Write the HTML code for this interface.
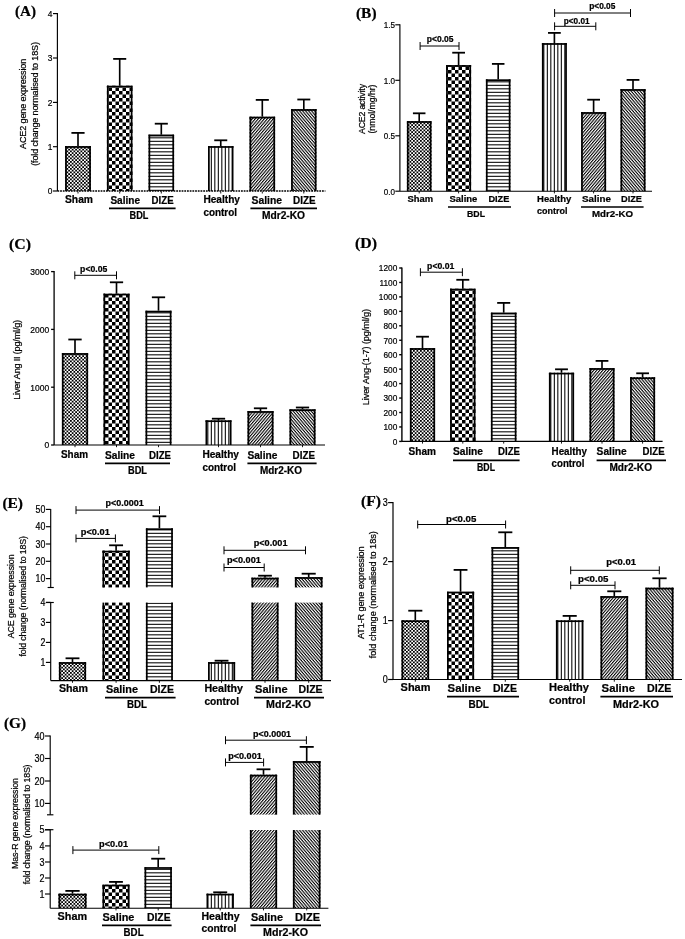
<!DOCTYPE html>
<html lang="en"><head><meta charset="utf-8"><title>Figure</title>
<style>
html,body{margin:0;padding:0;background:#fff;}
body{width:685px;height:939px;overflow:hidden;}
svg{display:block;will-change:transform;filter:blur(0.35px);}
svg line{stroke:#000;}
svg text{fill:#000;stroke:#000;stroke-width:0.22px;}
.r{font-family:"Liberation Sans",Arial,Helvetica,sans-serif;font-weight:400;}
.b{font-family:"Liberation Sans",Arial,Helvetica,sans-serif;font-weight:700;}
.s{font-family:"Liberation Serif","Times New Roman",Times,serif;font-weight:700;}
</style></head><body>
<svg width="685" height="939" viewBox="0 0 685 939">
<defs>
<pattern id="p-fine" width="3.5" height="3.5" patternUnits="userSpaceOnUse"><rect width="3.5" height="3.5" fill="#fff"/><rect x="0" y="0" width="1.75" height="1.75" fill="#000"/><rect x="1.75" y="1.75" width="1.75" height="1.75" fill="#000"/></pattern>
<pattern id="p-big" width="7" height="7" patternUnits="userSpaceOnUse"><rect width="7" height="7" fill="#fff"/><rect x="0" y="0" width="3.5" height="3.5" fill="#000"/><rect x="3.5" y="3.5" width="3.5" height="3.5" fill="#000"/></pattern>
<pattern id="p-h" width="7" height="7" patternUnits="userSpaceOnUse"><rect width="7" height="7" fill="#fff"/><rect x="0" y="0.8" width="7" height="1.05" fill="#000"/><rect x="0" y="4.3" width="7" height="1.05" fill="#000"/></pattern>
<pattern id="p-v" width="7" height="7" patternUnits="userSpaceOnUse"><rect width="7" height="7" fill="#fff"/><rect x="0.8" y="0" width="1.05" height="7" fill="#000"/><rect x="4.3" y="0" width="1.05" height="7" fill="#000"/></pattern>
<pattern id="p-d1" width="2.3" height="2.3" patternUnits="userSpaceOnUse" patternTransform="rotate(-50)"><rect width="2.3" height="2.3" fill="#fff"/><rect x="0" y="0" width="2.3" height="1.1" fill="#000"/></pattern>
<pattern id="p-d2" width="2.3" height="2.3" patternUnits="userSpaceOnUse" patternTransform="rotate(50)"><rect width="2.3" height="2.3" fill="#fff"/><rect x="0" y="0" width="2.3" height="1.1" fill="#000"/></pattern>
</defs>
<rect x="0" y="0" width="685" height="939" fill="#fff"/>
<text class="s" x="15" y="16.3" font-size="14.3" textLength="21" lengthAdjust="spacingAndGlyphs">(A)</text>
<line x1="57.4" y1="13.1" x2="57.4" y2="191" stroke-width="1.15"/>
<line x1="53" y1="13.6" x2="57.4" y2="13.6" stroke-width="1.15"/>
<text class="r" x="47.86" y="17.03" font-size="9.66" textLength="4.67" lengthAdjust="spacingAndGlyphs">4</text>
<line x1="53" y1="58" x2="57.4" y2="58" stroke-width="1.15"/>
<text class="r" x="47.86" y="61.43" font-size="9.66" textLength="4.67" lengthAdjust="spacingAndGlyphs">3</text>
<line x1="53" y1="102.4" x2="57.4" y2="102.4" stroke-width="1.15"/>
<text class="r" x="47.86" y="105.83" font-size="9.66" textLength="4.67" lengthAdjust="spacingAndGlyphs">2</text>
<line x1="53" y1="146.7" x2="57.4" y2="146.7" stroke-width="1.15"/>
<text class="r" x="47.86" y="150.13" font-size="9.66" textLength="4.67" lengthAdjust="spacingAndGlyphs">1</text>
<line x1="53" y1="191" x2="57.4" y2="191" stroke-width="1.15"/>
<text class="r" x="47.86" y="194.43" font-size="9.66" textLength="4.67" lengthAdjust="spacingAndGlyphs">0</text>
<rect x="65.1" y="146.1" width="25.8" height="44.9" fill="url(#p-fine)" stroke="none"/>
<line x1="65.97" y1="146.1" x2="65.97" y2="191" stroke-width="1.75"/>
<line x1="90.03" y1="146.1" x2="90.03" y2="191" stroke-width="1.75"/>
<line x1="65.1" y1="146.97" x2="90.9" y2="146.97" stroke-width="1.75"/>
<line x1="78" y1="132.9" x2="78" y2="146.1" stroke-width="1.65"/>
<line x1="71.42" y1="132.9" x2="84.58" y2="132.9" stroke-width="1.8"/>
<rect x="106.9" y="85.7" width="25.6" height="105.3" fill="url(#p-big)" stroke="none"/>
<line x1="107.78" y1="85.7" x2="107.78" y2="191" stroke-width="1.75"/>
<line x1="131.62" y1="85.7" x2="131.62" y2="191" stroke-width="1.75"/>
<line x1="106.9" y1="86.58" x2="132.5" y2="86.58" stroke-width="1.75"/>
<line x1="119.7" y1="58.9" x2="119.7" y2="85.7" stroke-width="1.65"/>
<line x1="113.17" y1="58.9" x2="126.23" y2="58.9" stroke-width="1.8"/>
<rect x="148.5" y="134.7" width="25.6" height="56.3" fill="url(#p-h)" stroke="none"/>
<line x1="149.38" y1="134.7" x2="149.38" y2="191" stroke-width="1.75"/>
<line x1="173.22" y1="134.7" x2="173.22" y2="191" stroke-width="1.75"/>
<line x1="148.5" y1="135.57" x2="174.1" y2="135.57" stroke-width="1.75"/>
<line x1="161.3" y1="123.7" x2="161.3" y2="134.7" stroke-width="1.65"/>
<line x1="154.77" y1="123.7" x2="167.83" y2="123.7" stroke-width="1.8"/>
<rect x="208" y="146.1" width="25.5" height="44.9" fill="url(#p-v)" stroke="none"/>
<line x1="208.88" y1="146.1" x2="208.88" y2="191" stroke-width="1.75"/>
<line x1="232.62" y1="146.1" x2="232.62" y2="191" stroke-width="1.75"/>
<line x1="208" y1="146.97" x2="233.5" y2="146.97" stroke-width="1.75"/>
<line x1="220.75" y1="140.3" x2="220.75" y2="146.1" stroke-width="1.65"/>
<line x1="214.25" y1="140.3" x2="227.25" y2="140.3" stroke-width="1.8"/>
<rect x="249.5" y="116.7" width="25.6" height="74.3" fill="url(#p-d1)" stroke="none"/>
<line x1="250.38" y1="116.7" x2="250.38" y2="191" stroke-width="1.75"/>
<line x1="274.23" y1="116.7" x2="274.23" y2="191" stroke-width="1.75"/>
<line x1="249.5" y1="117.58" x2="275.1" y2="117.58" stroke-width="1.75"/>
<line x1="262.3" y1="99.9" x2="262.3" y2="116.7" stroke-width="1.65"/>
<line x1="255.77" y1="99.9" x2="268.83" y2="99.9" stroke-width="1.8"/>
<rect x="291.1" y="109.1" width="25.4" height="81.9" fill="url(#p-d2)" stroke="none"/>
<line x1="291.98" y1="109.1" x2="291.98" y2="191" stroke-width="1.75"/>
<line x1="315.62" y1="109.1" x2="315.62" y2="191" stroke-width="1.75"/>
<line x1="291.1" y1="109.98" x2="316.5" y2="109.98" stroke-width="1.75"/>
<line x1="303.8" y1="99.5" x2="303.8" y2="109.1" stroke-width="1.65"/>
<line x1="297.32" y1="99.5" x2="310.28" y2="99.5" stroke-width="1.8"/>
<line x1="57.4" y1="191" x2="325.4" y2="191" stroke-width="1.3" stroke-dasharray="1.8 0.9"/>
<line x1="78" y1="191.5" x2="78" y2="193.5" stroke-width="0.9"/>
<line x1="119.7" y1="191.5" x2="119.7" y2="193.5" stroke-width="0.9"/>
<line x1="161.3" y1="191.5" x2="161.3" y2="193.5" stroke-width="0.9"/>
<line x1="220.75" y1="191.5" x2="220.75" y2="193.5" stroke-width="0.9"/>
<line x1="262.3" y1="191.5" x2="262.3" y2="193.5" stroke-width="0.9"/>
<line x1="303.8" y1="191.5" x2="303.8" y2="193.5" stroke-width="0.9"/>
<text class="r" transform="translate(26 103.9) rotate(-90)" x="-45.15" y="0" font-size="9.1" textLength="90.3" lengthAdjust="spacing">ACE2 gene expression</text>
<text class="r" transform="translate(38 103.9) rotate(-90)" x="-61.9" y="0" font-size="9.1" textLength="123.8" lengthAdjust="spacing">(fold change normalised to 18S)</text>
<text class="b" x="65" y="203" font-size="10.2" textLength="28" lengthAdjust="spacingAndGlyphs">Sham</text>
<text class="b" x="110.4" y="204" font-size="10.2" textLength="29.6" lengthAdjust="spacingAndGlyphs">Saline</text>
<text class="b" x="151.6" y="204" font-size="10.2" textLength="22" lengthAdjust="spacingAndGlyphs">DIZE</text>
<text class="b" x="129.6" y="219.2" font-size="10.2" textLength="18.8" lengthAdjust="spacingAndGlyphs">BDL</text>
<text class="b" x="203.4" y="203" font-size="10.2" textLength="36.6" lengthAdjust="spacingAndGlyphs">Healthy</text>
<text class="b" x="203.4" y="215.6" font-size="10.2" textLength="33.6" lengthAdjust="spacingAndGlyphs">control</text>
<text class="b" x="251.6" y="204" font-size="10.2" textLength="30.4" lengthAdjust="spacingAndGlyphs">Saline</text>
<text class="b" x="293" y="204" font-size="10.2" textLength="22.6" lengthAdjust="spacingAndGlyphs">DIZE</text>
<text class="b" x="262" y="219.2" font-size="10.2" textLength="43" lengthAdjust="spacingAndGlyphs">Mdr2-KO</text>
<line x1="109" y1="208.4" x2="175.6" y2="208.4" stroke-width="1.7"/>
<line x1="250.4" y1="208.4" x2="317" y2="208.4" stroke-width="1.7"/>
<text class="s" x="356" y="18.1" font-size="14.3" textLength="20.5" lengthAdjust="spacingAndGlyphs">(B)</text>
<line x1="399.9" y1="24.3" x2="399.9" y2="191.2" stroke-width="1.15"/>
<line x1="395.3" y1="24.8" x2="399.9" y2="24.8" stroke-width="1.15"/>
<text class="r" x="383.86" y="28.11" font-size="9.31" textLength="11.26" lengthAdjust="spacingAndGlyphs">1.5</text>
<line x1="395.3" y1="80.3" x2="399.9" y2="80.3" stroke-width="1.15"/>
<text class="r" x="383.86" y="83.61" font-size="9.31" textLength="11.26" lengthAdjust="spacingAndGlyphs">1.0</text>
<line x1="395.3" y1="135.8" x2="399.9" y2="135.8" stroke-width="1.15"/>
<text class="r" x="383.86" y="139.11" font-size="9.31" textLength="11.26" lengthAdjust="spacingAndGlyphs">0.5</text>
<line x1="395.3" y1="191.2" x2="399.9" y2="191.2" stroke-width="1.15"/>
<text class="r" x="383.86" y="194.51" font-size="9.31" textLength="11.26" lengthAdjust="spacingAndGlyphs">0.0</text>
<rect x="406.9" y="121.1" width="24.6" height="70.1" fill="url(#p-fine)" stroke="none"/>
<line x1="407.77" y1="121.1" x2="407.77" y2="191.2" stroke-width="1.75"/>
<line x1="430.62" y1="121.1" x2="430.62" y2="191.2" stroke-width="1.75"/>
<line x1="406.9" y1="121.98" x2="431.5" y2="121.98" stroke-width="1.75"/>
<line x1="419.2" y1="113.3" x2="419.2" y2="121.1" stroke-width="1.65"/>
<line x1="412.93" y1="113.3" x2="425.47" y2="113.3" stroke-width="1.8"/>
<rect x="446.1" y="65.1" width="25" height="126.1" fill="url(#p-big)" stroke="none"/>
<line x1="446.98" y1="65.1" x2="446.98" y2="191.2" stroke-width="1.75"/>
<line x1="470.23" y1="65.1" x2="470.23" y2="191.2" stroke-width="1.75"/>
<line x1="446.1" y1="65.98" x2="471.1" y2="65.98" stroke-width="1.75"/>
<line x1="458.6" y1="52.7" x2="458.6" y2="65.1" stroke-width="1.65"/>
<line x1="452.23" y1="52.7" x2="464.98" y2="52.7" stroke-width="1.8"/>
<rect x="485.9" y="79.3" width="24.6" height="111.9" fill="url(#p-h)" stroke="none"/>
<line x1="486.77" y1="79.3" x2="486.77" y2="191.2" stroke-width="1.75"/>
<line x1="509.62" y1="79.3" x2="509.62" y2="191.2" stroke-width="1.75"/>
<line x1="485.9" y1="80.17" x2="510.5" y2="80.17" stroke-width="1.75"/>
<line x1="498.2" y1="63.9" x2="498.2" y2="79.3" stroke-width="1.65"/>
<line x1="491.93" y1="63.9" x2="504.47" y2="63.9" stroke-width="1.8"/>
<rect x="541.9" y="43.1" width="25" height="148.1" fill="url(#p-v)" stroke="none"/>
<line x1="542.77" y1="43.1" x2="542.77" y2="191.2" stroke-width="1.75"/>
<line x1="566.02" y1="43.1" x2="566.02" y2="191.2" stroke-width="1.75"/>
<line x1="541.9" y1="43.98" x2="566.9" y2="43.98" stroke-width="1.75"/>
<line x1="554.4" y1="32.9" x2="554.4" y2="43.1" stroke-width="1.65"/>
<line x1="548.02" y1="32.9" x2="560.77" y2="32.9" stroke-width="1.8"/>
<rect x="581.1" y="112.1" width="25" height="79.1" fill="url(#p-d1)" stroke="none"/>
<line x1="581.98" y1="112.1" x2="581.98" y2="191.2" stroke-width="1.75"/>
<line x1="605.23" y1="112.1" x2="605.23" y2="191.2" stroke-width="1.75"/>
<line x1="581.1" y1="112.98" x2="606.1" y2="112.98" stroke-width="1.75"/>
<line x1="593.6" y1="99.7" x2="593.6" y2="112.1" stroke-width="1.65"/>
<line x1="587.23" y1="99.7" x2="599.98" y2="99.7" stroke-width="1.8"/>
<rect x="620.5" y="89.1" width="25" height="102.1" fill="url(#p-d2)" stroke="none"/>
<line x1="621.38" y1="89.1" x2="621.38" y2="191.2" stroke-width="1.75"/>
<line x1="644.62" y1="89.1" x2="644.62" y2="191.2" stroke-width="1.75"/>
<line x1="620.5" y1="89.98" x2="645.5" y2="89.98" stroke-width="1.75"/>
<line x1="633" y1="79.9" x2="633" y2="89.1" stroke-width="1.65"/>
<line x1="626.62" y1="79.9" x2="639.38" y2="79.9" stroke-width="1.8"/>
<line x1="399.9" y1="191.2" x2="652" y2="191.2" stroke-width="1.15"/>
<line x1="419.2" y1="191.2" x2="419.2" y2="193.4" stroke-width="0.9"/>
<line x1="458.6" y1="191.2" x2="458.6" y2="193.4" stroke-width="0.9"/>
<line x1="498.2" y1="191.2" x2="498.2" y2="193.4" stroke-width="0.9"/>
<line x1="554.4" y1="191.2" x2="554.4" y2="193.4" stroke-width="0.9"/>
<line x1="593.6" y1="191.2" x2="593.6" y2="193.4" stroke-width="0.9"/>
<line x1="633" y1="191.2" x2="633" y2="193.4" stroke-width="0.9"/>
<text class="r" transform="translate(365 109) rotate(-90)" x="-25" y="0" font-size="8.7" textLength="50" lengthAdjust="spacing">ACE2 activity</text>
<text class="r" transform="translate(375.2 109) rotate(-90)" x="-24.5" y="0" font-size="8.7" textLength="49" lengthAdjust="spacing">(nmol/mg/hr)</text>
<line x1="420.1" y1="46" x2="459" y2="46" stroke-width="1"/>
<line x1="420.1" y1="42" x2="420.1" y2="50" stroke-width="1"/>
<line x1="459" y1="42" x2="459" y2="50" stroke-width="1"/>
<text class="b" x="426.8" y="41.8" font-size="8.4" textLength="26.7" lengthAdjust="spacingAndGlyphs">p&lt;0.05</text>
<line x1="554.6" y1="13" x2="630.5" y2="13" stroke-width="1"/>
<line x1="554.6" y1="9" x2="554.6" y2="17" stroke-width="1"/>
<line x1="630.5" y1="9" x2="630.5" y2="17" stroke-width="1"/>
<text class="b" x="589.2" y="9.2" font-size="8.4" textLength="26.2" lengthAdjust="spacingAndGlyphs">p&lt;0.05</text>
<line x1="554.6" y1="26.3" x2="595.8" y2="26.3" stroke-width="1"/>
<line x1="554.6" y1="22.3" x2="554.6" y2="30.3" stroke-width="1"/>
<line x1="595.8" y1="22.3" x2="595.8" y2="30.3" stroke-width="1"/>
<text class="b" x="563.8" y="23.6" font-size="8.4" textLength="25.8" lengthAdjust="spacingAndGlyphs">p&lt;0.01</text>
<text class="b" x="407.4" y="202" font-size="9.7" textLength="25.6" lengthAdjust="spacingAndGlyphs">Sham</text>
<text class="b" x="449.4" y="202.4" font-size="9.7" textLength="28" lengthAdjust="spacingAndGlyphs">Saline</text>
<text class="b" x="488.4" y="202.4" font-size="9.7" textLength="21" lengthAdjust="spacingAndGlyphs">DIZE</text>
<text class="b" x="467" y="217.4" font-size="9.7" textLength="18" lengthAdjust="spacingAndGlyphs">BDL</text>
<text class="b" x="537" y="202" font-size="9.7" textLength="34.4" lengthAdjust="spacingAndGlyphs">Healthy</text>
<text class="b" x="537" y="213.6" font-size="9.7" textLength="30.4" lengthAdjust="spacingAndGlyphs">control</text>
<text class="b" x="582" y="202.4" font-size="9.7" textLength="29" lengthAdjust="spacingAndGlyphs">Saline</text>
<text class="b" x="621" y="202.4" font-size="9.7" textLength="21" lengthAdjust="spacingAndGlyphs">DIZE</text>
<text class="b" x="592" y="217.4" font-size="9.7" textLength="41" lengthAdjust="spacingAndGlyphs">Mdr2-KO</text>
<line x1="448" y1="207" x2="511" y2="207" stroke-width="1.7"/>
<line x1="581" y1="207" x2="643.6" y2="207" stroke-width="1.7"/>
<text class="s" x="9" y="248.9" font-size="14.3" textLength="22" lengthAdjust="spacingAndGlyphs">(C)</text>
<line x1="54.1" y1="271" x2="54.1" y2="445" stroke-width="1.3"/>
<line x1="51.1" y1="271.6" x2="54.1" y2="271.6" stroke-width="1.3"/>
<text class="r" x="30.23" y="275.07" font-size="9.77" textLength="18.91" lengthAdjust="spacingAndGlyphs">3000</text>
<line x1="51.1" y1="329.4" x2="54.1" y2="329.4" stroke-width="1.3"/>
<text class="r" x="30.23" y="332.87" font-size="9.77" textLength="18.91" lengthAdjust="spacingAndGlyphs">2000</text>
<line x1="51.1" y1="387.2" x2="54.1" y2="387.2" stroke-width="1.3"/>
<text class="r" x="30.23" y="390.67" font-size="9.77" textLength="18.91" lengthAdjust="spacingAndGlyphs">1000</text>
<line x1="51.1" y1="445" x2="54.1" y2="445" stroke-width="1.3"/>
<text class="r" x="44.41" y="448.47" font-size="9.77" textLength="4.73" lengthAdjust="spacingAndGlyphs">0</text>
<rect x="61.9" y="353.1" width="26.2" height="91.9" fill="url(#p-fine)" stroke="none"/>
<line x1="62.77" y1="353.1" x2="62.77" y2="445" stroke-width="1.75"/>
<line x1="87.22" y1="353.1" x2="87.22" y2="445" stroke-width="1.75"/>
<line x1="61.9" y1="353.97" x2="88.1" y2="353.97" stroke-width="1.75"/>
<line x1="75" y1="339.5" x2="75" y2="353.1" stroke-width="1.65"/>
<line x1="68.32" y1="339.5" x2="81.68" y2="339.5" stroke-width="1.8"/>
<rect x="103.5" y="293.7" width="26" height="151.3" fill="url(#p-big)" stroke="none"/>
<line x1="104.38" y1="293.7" x2="104.38" y2="445" stroke-width="1.75"/>
<line x1="128.62" y1="293.7" x2="128.62" y2="445" stroke-width="1.75"/>
<line x1="103.5" y1="294.57" x2="129.5" y2="294.57" stroke-width="1.75"/>
<line x1="116.5" y1="282.3" x2="116.5" y2="293.7" stroke-width="1.65"/>
<line x1="109.87" y1="282.3" x2="123.13" y2="282.3" stroke-width="1.8"/>
<rect x="145.5" y="310.7" width="26" height="134.3" fill="url(#p-h)" stroke="none"/>
<line x1="146.38" y1="310.7" x2="146.38" y2="445" stroke-width="1.75"/>
<line x1="170.62" y1="310.7" x2="170.62" y2="445" stroke-width="1.75"/>
<line x1="145.5" y1="311.57" x2="171.5" y2="311.57" stroke-width="1.75"/>
<line x1="158.5" y1="297.3" x2="158.5" y2="310.7" stroke-width="1.65"/>
<line x1="151.87" y1="297.3" x2="165.13" y2="297.3" stroke-width="1.8"/>
<rect x="205.5" y="420.3" width="26" height="24.7" fill="url(#p-v)" stroke="none"/>
<line x1="206.38" y1="420.3" x2="206.38" y2="445" stroke-width="1.75"/>
<line x1="230.62" y1="420.3" x2="230.62" y2="445" stroke-width="1.75"/>
<line x1="205.5" y1="421.18" x2="231.5" y2="421.18" stroke-width="1.75"/>
<line x1="218.5" y1="418.7" x2="218.5" y2="420.3" stroke-width="1.65"/>
<line x1="211.87" y1="418.7" x2="225.13" y2="418.7" stroke-width="1.8"/>
<rect x="247.5" y="411.1" width="26" height="33.9" fill="url(#p-d1)" stroke="none"/>
<line x1="248.38" y1="411.1" x2="248.38" y2="445" stroke-width="1.75"/>
<line x1="272.62" y1="411.1" x2="272.62" y2="445" stroke-width="1.75"/>
<line x1="247.5" y1="411.97" x2="273.5" y2="411.97" stroke-width="1.75"/>
<line x1="260.5" y1="408.3" x2="260.5" y2="411.1" stroke-width="1.65"/>
<line x1="253.87" y1="408.3" x2="267.13" y2="408.3" stroke-width="1.8"/>
<rect x="289.5" y="409.3" width="26" height="35.7" fill="url(#p-d2)" stroke="none"/>
<line x1="290.38" y1="409.3" x2="290.38" y2="445" stroke-width="1.75"/>
<line x1="314.62" y1="409.3" x2="314.62" y2="445" stroke-width="1.75"/>
<line x1="289.5" y1="410.18" x2="315.5" y2="410.18" stroke-width="1.75"/>
<line x1="302.5" y1="407.5" x2="302.5" y2="409.3" stroke-width="1.65"/>
<line x1="295.87" y1="407.5" x2="309.13" y2="407.5" stroke-width="1.8"/>
<line x1="54.1" y1="445" x2="325" y2="445" stroke-width="1.15"/>
<line x1="75" y1="445" x2="75" y2="447.2" stroke-width="0.9"/>
<line x1="116.5" y1="445" x2="116.5" y2="447.2" stroke-width="0.9"/>
<line x1="158.5" y1="445" x2="158.5" y2="447.2" stroke-width="0.9"/>
<line x1="218.5" y1="445" x2="218.5" y2="447.2" stroke-width="0.9"/>
<line x1="260.5" y1="445" x2="260.5" y2="447.2" stroke-width="0.9"/>
<line x1="302.5" y1="445" x2="302.5" y2="447.2" stroke-width="0.9"/>
<text class="r" transform="translate(20.3 359.8) rotate(-90)" x="-39.95" y="0" font-size="9.1" textLength="79.9" lengthAdjust="spacing">Liver Ang II (pg/ml/g)</text>
<line x1="74.8" y1="275.3" x2="116.5" y2="275.3" stroke-width="1"/>
<line x1="74.8" y1="271.3" x2="74.8" y2="279.3" stroke-width="1"/>
<line x1="116.5" y1="271.3" x2="116.5" y2="279.3" stroke-width="1"/>
<text class="b" x="80.1" y="271.6" font-size="8.6" textLength="27.2" lengthAdjust="spacingAndGlyphs">p&lt;0.05</text>
<text class="b" x="61" y="458.4" font-size="10.2" textLength="27" lengthAdjust="spacingAndGlyphs">Sham</text>
<text class="b" x="105" y="459" font-size="10.2" textLength="30" lengthAdjust="spacingAndGlyphs">Saline</text>
<text class="b" x="149" y="459" font-size="10.2" textLength="22" lengthAdjust="spacingAndGlyphs">DIZE</text>
<text class="b" x="128" y="474" font-size="10.2" textLength="19" lengthAdjust="spacingAndGlyphs">BDL</text>
<text class="b" x="202.4" y="458.4" font-size="10.2" textLength="36.6" lengthAdjust="spacingAndGlyphs">Healthy</text>
<text class="b" x="202.4" y="470.6" font-size="10.2" textLength="33.6" lengthAdjust="spacingAndGlyphs">control</text>
<text class="b" x="247.4" y="459" font-size="10.2" textLength="30" lengthAdjust="spacingAndGlyphs">Saline</text>
<text class="b" x="292.6" y="459" font-size="10.2" textLength="22.4" lengthAdjust="spacingAndGlyphs">DIZE</text>
<text class="b" x="260" y="474" font-size="10.2" textLength="42" lengthAdjust="spacingAndGlyphs">Mdr2-KO</text>
<line x1="105" y1="463.4" x2="170" y2="463.4" stroke-width="1.7"/>
<line x1="247.4" y1="463.4" x2="316.6" y2="463.4" stroke-width="1.7"/>
<text class="s" x="355" y="248.1" font-size="14.3" textLength="22" lengthAdjust="spacingAndGlyphs">(D)</text>
<line x1="401.9" y1="267.4" x2="401.9" y2="441.4" stroke-width="1.4"/>
<line x1="399.2" y1="268" x2="401.9" y2="268" stroke-width="1.4"/>
<text class="r" x="378.87" y="271.39" font-size="9.54" textLength="18.46" lengthAdjust="spacingAndGlyphs">1200</text>
<line x1="399.2" y1="282.45" x2="401.9" y2="282.45" stroke-width="1.4"/>
<text class="r" x="379.48" y="285.84" font-size="9.54" textLength="17.85" lengthAdjust="spacingAndGlyphs">1100</text>
<line x1="399.2" y1="296.9" x2="401.9" y2="296.9" stroke-width="1.4"/>
<text class="r" x="378.87" y="300.29" font-size="9.54" textLength="18.46" lengthAdjust="spacingAndGlyphs">1000</text>
<line x1="399.2" y1="311.35" x2="401.9" y2="311.35" stroke-width="1.4"/>
<text class="r" x="383.48" y="314.74" font-size="9.54" textLength="13.85" lengthAdjust="spacingAndGlyphs">900</text>
<line x1="399.2" y1="325.8" x2="401.9" y2="325.8" stroke-width="1.4"/>
<text class="r" x="383.48" y="329.19" font-size="9.54" textLength="13.85" lengthAdjust="spacingAndGlyphs">800</text>
<line x1="399.2" y1="340.25" x2="401.9" y2="340.25" stroke-width="1.4"/>
<text class="r" x="383.48" y="343.64" font-size="9.54" textLength="13.85" lengthAdjust="spacingAndGlyphs">700</text>
<line x1="399.2" y1="354.7" x2="401.9" y2="354.7" stroke-width="1.4"/>
<text class="r" x="383.48" y="358.09" font-size="9.54" textLength="13.85" lengthAdjust="spacingAndGlyphs">600</text>
<line x1="399.2" y1="369.15" x2="401.9" y2="369.15" stroke-width="1.4"/>
<text class="r" x="383.48" y="372.54" font-size="9.54" textLength="13.85" lengthAdjust="spacingAndGlyphs">500</text>
<line x1="399.2" y1="383.6" x2="401.9" y2="383.6" stroke-width="1.4"/>
<text class="r" x="383.48" y="386.99" font-size="9.54" textLength="13.85" lengthAdjust="spacingAndGlyphs">400</text>
<line x1="399.2" y1="398.05" x2="401.9" y2="398.05" stroke-width="1.4"/>
<text class="r" x="383.48" y="401.44" font-size="9.54" textLength="13.85" lengthAdjust="spacingAndGlyphs">300</text>
<line x1="399.2" y1="412.5" x2="401.9" y2="412.5" stroke-width="1.4"/>
<text class="r" x="383.48" y="415.89" font-size="9.54" textLength="13.85" lengthAdjust="spacingAndGlyphs">200</text>
<line x1="399.2" y1="426.95" x2="401.9" y2="426.95" stroke-width="1.4"/>
<text class="r" x="383.48" y="430.34" font-size="9.54" textLength="13.85" lengthAdjust="spacingAndGlyphs">100</text>
<line x1="399.2" y1="441.4" x2="401.9" y2="441.4" stroke-width="1.4"/>
<text class="r" x="392.72" y="444.79" font-size="9.54" textLength="4.62" lengthAdjust="spacingAndGlyphs">0</text>
<rect x="409.9" y="348.1" width="25.2" height="93.3" fill="url(#p-fine)" stroke="none"/>
<line x1="410.77" y1="348.1" x2="410.77" y2="441.4" stroke-width="1.75"/>
<line x1="434.23" y1="348.1" x2="434.23" y2="441.4" stroke-width="1.75"/>
<line x1="409.9" y1="348.97" x2="435.1" y2="348.97" stroke-width="1.75"/>
<line x1="422.5" y1="336.7" x2="422.5" y2="348.1" stroke-width="1.65"/>
<line x1="416.07" y1="336.7" x2="428.93" y2="336.7" stroke-width="1.8"/>
<rect x="450.1" y="288.7" width="25.4" height="152.7" fill="url(#p-big)" stroke="none"/>
<line x1="450.98" y1="288.7" x2="450.98" y2="441.4" stroke-width="1.75"/>
<line x1="474.62" y1="288.7" x2="474.62" y2="441.4" stroke-width="1.75"/>
<line x1="450.1" y1="289.57" x2="475.5" y2="289.57" stroke-width="1.75"/>
<line x1="462.8" y1="279.8" x2="462.8" y2="288.7" stroke-width="1.65"/>
<line x1="456.32" y1="279.8" x2="469.28" y2="279.8" stroke-width="1.8"/>
<rect x="490.9" y="312.7" width="25.6" height="128.7" fill="url(#p-h)" stroke="none"/>
<line x1="491.77" y1="312.7" x2="491.77" y2="441.4" stroke-width="1.75"/>
<line x1="515.62" y1="312.7" x2="515.62" y2="441.4" stroke-width="1.75"/>
<line x1="490.9" y1="313.57" x2="516.5" y2="313.57" stroke-width="1.75"/>
<line x1="503.7" y1="302.9" x2="503.7" y2="312.7" stroke-width="1.65"/>
<line x1="497.17" y1="302.9" x2="510.23" y2="302.9" stroke-width="1.8"/>
<rect x="548.9" y="372.7" width="25.2" height="68.7" fill="url(#p-v)" stroke="none"/>
<line x1="549.77" y1="372.7" x2="549.77" y2="441.4" stroke-width="1.75"/>
<line x1="573.23" y1="372.7" x2="573.23" y2="441.4" stroke-width="1.75"/>
<line x1="548.9" y1="373.57" x2="574.1" y2="373.57" stroke-width="1.75"/>
<line x1="561.5" y1="369.3" x2="561.5" y2="372.7" stroke-width="1.65"/>
<line x1="555.07" y1="369.3" x2="567.93" y2="369.3" stroke-width="1.8"/>
<rect x="589.5" y="368.1" width="25" height="73.3" fill="url(#p-d1)" stroke="none"/>
<line x1="590.38" y1="368.1" x2="590.38" y2="441.4" stroke-width="1.75"/>
<line x1="613.62" y1="368.1" x2="613.62" y2="441.4" stroke-width="1.75"/>
<line x1="589.5" y1="368.97" x2="614.5" y2="368.97" stroke-width="1.75"/>
<line x1="602" y1="360.9" x2="602" y2="368.1" stroke-width="1.65"/>
<line x1="595.62" y1="360.9" x2="608.38" y2="360.9" stroke-width="1.8"/>
<rect x="630.1" y="377.3" width="25" height="64.1" fill="url(#p-d2)" stroke="none"/>
<line x1="630.98" y1="377.3" x2="630.98" y2="441.4" stroke-width="1.75"/>
<line x1="654.23" y1="377.3" x2="654.23" y2="441.4" stroke-width="1.75"/>
<line x1="630.1" y1="378.18" x2="655.1" y2="378.18" stroke-width="1.75"/>
<line x1="642.6" y1="373.3" x2="642.6" y2="377.3" stroke-width="1.65"/>
<line x1="636.23" y1="373.3" x2="648.98" y2="373.3" stroke-width="1.8"/>
<line x1="401.9" y1="441.4" x2="662.6" y2="441.4" stroke-width="1.15"/>
<line x1="422.5" y1="441.4" x2="422.5" y2="443.6" stroke-width="0.9"/>
<line x1="462.8" y1="441.4" x2="462.8" y2="443.6" stroke-width="0.9"/>
<line x1="503.7" y1="441.4" x2="503.7" y2="443.6" stroke-width="0.9"/>
<line x1="561.5" y1="441.4" x2="561.5" y2="443.6" stroke-width="0.9"/>
<line x1="602" y1="441.4" x2="602" y2="443.6" stroke-width="0.9"/>
<line x1="642.6" y1="441.4" x2="642.6" y2="443.6" stroke-width="0.9"/>
<text class="r" transform="translate(368.5 357.1) rotate(-90)" x="-48.1" y="0" font-size="9.1" textLength="96.2" lengthAdjust="spacing">Liver Ang-(1-7) (pg/ml/g)</text>
<line x1="420.4" y1="272.2" x2="462.4" y2="272.2" stroke-width="1"/>
<line x1="420.4" y1="268.2" x2="420.4" y2="276.2" stroke-width="1"/>
<line x1="462.4" y1="268.2" x2="462.4" y2="276.2" stroke-width="1"/>
<text class="b" x="427.1" y="269" font-size="8.5" textLength="27.2" lengthAdjust="spacingAndGlyphs">p&lt;0.01</text>
<text class="b" x="408.6" y="455" font-size="10.1" textLength="27.4" lengthAdjust="spacingAndGlyphs">Sham</text>
<text class="b" x="453" y="455.4" font-size="10.1" textLength="30" lengthAdjust="spacingAndGlyphs">Saline</text>
<text class="b" x="498" y="455.4" font-size="10.1" textLength="22" lengthAdjust="spacingAndGlyphs">DIZE</text>
<text class="b" x="477" y="471" font-size="10.1" textLength="18" lengthAdjust="spacingAndGlyphs">BDL</text>
<text class="b" x="551.6" y="455" font-size="10.1" textLength="35.4" lengthAdjust="spacingAndGlyphs">Healthy</text>
<text class="b" x="551.6" y="467.4" font-size="10.1" textLength="32.8" lengthAdjust="spacingAndGlyphs">control</text>
<text class="b" x="596.6" y="455.4" font-size="10.1" textLength="30" lengthAdjust="spacingAndGlyphs">Saline</text>
<text class="b" x="642.6" y="455.4" font-size="10.1" textLength="22" lengthAdjust="spacingAndGlyphs">DIZE</text>
<text class="b" x="609.4" y="471" font-size="10.1" textLength="42.6" lengthAdjust="spacingAndGlyphs">Mdr2-KO</text>
<line x1="453" y1="460.4" x2="519.6" y2="460.4" stroke-width="1.7"/>
<line x1="596.6" y1="460.4" x2="666" y2="460.4" stroke-width="1.7"/>
<text class="s" x="2.4" y="507.5" font-size="14.3" textLength="20.6" lengthAdjust="spacingAndGlyphs">(E)</text>
<line x1="50.7" y1="508.9" x2="50.7" y2="587.5" stroke-width="1.15"/>
<line x1="45.9" y1="509.4" x2="50.7" y2="509.4" stroke-width="1.15"/>
<text class="r" x="35.56" y="512.99" font-size="10.11" textLength="9.79" lengthAdjust="spacingAndGlyphs">50</text>
<line x1="45.9" y1="526.7" x2="50.7" y2="526.7" stroke-width="1.15"/>
<text class="r" x="35.56" y="530.29" font-size="10.11" textLength="9.79" lengthAdjust="spacingAndGlyphs">40</text>
<line x1="45.9" y1="544" x2="50.7" y2="544" stroke-width="1.15"/>
<text class="r" x="35.56" y="547.59" font-size="10.11" textLength="9.79" lengthAdjust="spacingAndGlyphs">30</text>
<line x1="45.9" y1="561.3" x2="50.7" y2="561.3" stroke-width="1.15"/>
<text class="r" x="35.56" y="564.89" font-size="10.11" textLength="9.79" lengthAdjust="spacingAndGlyphs">20</text>
<line x1="45.9" y1="578.6" x2="50.7" y2="578.6" stroke-width="1.15"/>
<text class="r" x="35.56" y="582.19" font-size="10.11" textLength="9.79" lengthAdjust="spacingAndGlyphs">10</text>
<line x1="47.6" y1="587.5" x2="53.8" y2="587.5" stroke-width="1.15"/>
<line x1="50.7" y1="602.4" x2="50.7" y2="680.6" stroke-width="1.15"/>
<line x1="45.9" y1="602.4" x2="50.7" y2="602.4" stroke-width="1.15"/>
<text class="r" x="40.46" y="605.99" font-size="10.11" textLength="4.89" lengthAdjust="spacingAndGlyphs">4</text>
<line x1="45.9" y1="622.4" x2="50.7" y2="622.4" stroke-width="1.15"/>
<text class="r" x="40.46" y="625.99" font-size="10.11" textLength="4.89" lengthAdjust="spacingAndGlyphs">3</text>
<line x1="45.9" y1="642.4" x2="50.7" y2="642.4" stroke-width="1.15"/>
<text class="r" x="40.46" y="645.99" font-size="10.11" textLength="4.89" lengthAdjust="spacingAndGlyphs">2</text>
<line x1="45.9" y1="662.4" x2="50.7" y2="662.4" stroke-width="1.15"/>
<text class="r" x="40.46" y="665.99" font-size="10.11" textLength="4.89" lengthAdjust="spacingAndGlyphs">1</text>
<line x1="45.9" y1="602.5" x2="53.8" y2="602.5" stroke-width="1.15"/>
<rect x="58.9" y="662.1" width="27.2" height="18.5" fill="url(#p-fine)" stroke="none"/>
<line x1="59.77" y1="662.1" x2="59.77" y2="680.6" stroke-width="1.75"/>
<line x1="85.22" y1="662.1" x2="85.22" y2="680.6" stroke-width="1.75"/>
<line x1="58.9" y1="662.98" x2="86.1" y2="662.98" stroke-width="1.75"/>
<line x1="72.5" y1="658.3" x2="72.5" y2="662.1" stroke-width="1.65"/>
<line x1="65.56" y1="658.3" x2="79.44" y2="658.3" stroke-width="1.8"/>
<rect x="102.5" y="550.7" width="27.2" height="36.7" fill="url(#p-big)" stroke="none"/>
<line x1="103.38" y1="550.7" x2="103.38" y2="587.4" stroke-width="1.75"/>
<line x1="128.82" y1="550.7" x2="128.82" y2="587.4" stroke-width="1.75"/>
<line x1="102.5" y1="551.58" x2="129.7" y2="551.58" stroke-width="1.75"/>
<line x1="116.1" y1="545.3" x2="116.1" y2="550.7" stroke-width="1.65"/>
<line x1="109.16" y1="545.3" x2="123.04" y2="545.3" stroke-width="1.8"/>
<rect x="102.5" y="602.6" width="27.2" height="78" fill="url(#p-big)" stroke="none"/>
<line x1="103.38" y1="602.6" x2="103.38" y2="680.6" stroke-width="1.75"/>
<line x1="128.82" y1="602.6" x2="128.82" y2="680.6" stroke-width="1.75"/>
<rect x="145.9" y="528.3" width="27" height="59.1" fill="url(#p-h)" stroke="none"/>
<line x1="146.78" y1="528.3" x2="146.78" y2="587.4" stroke-width="1.75"/>
<line x1="172.03" y1="528.3" x2="172.03" y2="587.4" stroke-width="1.75"/>
<line x1="145.9" y1="529.18" x2="172.9" y2="529.18" stroke-width="1.75"/>
<line x1="159.4" y1="516.3" x2="159.4" y2="528.3" stroke-width="1.65"/>
<line x1="152.52" y1="516.3" x2="166.28" y2="516.3" stroke-width="1.8"/>
<rect x="145.9" y="602.6" width="27" height="78" fill="url(#p-h)" stroke="none"/>
<line x1="146.78" y1="602.6" x2="146.78" y2="680.6" stroke-width="1.75"/>
<line x1="172.03" y1="602.6" x2="172.03" y2="680.6" stroke-width="1.75"/>
<rect x="208" y="662.1" width="27.1" height="18.5" fill="url(#p-v)" stroke="none"/>
<line x1="208.88" y1="662.1" x2="208.88" y2="680.6" stroke-width="1.75"/>
<line x1="234.22" y1="662.1" x2="234.22" y2="680.6" stroke-width="1.75"/>
<line x1="208" y1="662.98" x2="235.1" y2="662.98" stroke-width="1.75"/>
<line x1="221.55" y1="660.7" x2="221.55" y2="662.1" stroke-width="1.65"/>
<line x1="214.64" y1="660.7" x2="228.46" y2="660.7" stroke-width="1.8"/>
<rect x="251.5" y="577.7" width="27" height="9.7" fill="url(#p-d1)" stroke="none"/>
<line x1="252.38" y1="577.7" x2="252.38" y2="587.4" stroke-width="1.75"/>
<line x1="277.62" y1="577.7" x2="277.62" y2="587.4" stroke-width="1.75"/>
<line x1="251.5" y1="578.58" x2="278.5" y2="578.58" stroke-width="1.75"/>
<line x1="265" y1="575.7" x2="265" y2="577.7" stroke-width="1.65"/>
<line x1="258.12" y1="575.7" x2="271.88" y2="575.7" stroke-width="1.8"/>
<rect x="251.5" y="602.6" width="27" height="78" fill="url(#p-d1)" stroke="none"/>
<line x1="252.38" y1="602.6" x2="252.38" y2="680.6" stroke-width="1.75"/>
<line x1="277.62" y1="602.6" x2="277.62" y2="680.6" stroke-width="1.75"/>
<rect x="294.9" y="577.1" width="27.6" height="10.3" fill="url(#p-d2)" stroke="none"/>
<line x1="295.77" y1="577.1" x2="295.77" y2="587.4" stroke-width="1.75"/>
<line x1="321.62" y1="577.1" x2="321.62" y2="587.4" stroke-width="1.75"/>
<line x1="294.9" y1="577.98" x2="322.5" y2="577.98" stroke-width="1.75"/>
<line x1="308.7" y1="573.7" x2="308.7" y2="577.1" stroke-width="1.65"/>
<line x1="301.66" y1="573.7" x2="315.74" y2="573.7" stroke-width="1.8"/>
<rect x="294.9" y="602.6" width="27.6" height="78" fill="url(#p-d2)" stroke="none"/>
<line x1="295.77" y1="602.6" x2="295.77" y2="680.6" stroke-width="1.75"/>
<line x1="321.62" y1="602.6" x2="321.62" y2="680.6" stroke-width="1.75"/>
<line x1="50.7" y1="680.6" x2="331" y2="680.6" stroke-width="1.15"/>
<line x1="72.5" y1="680.6" x2="72.5" y2="682.8" stroke-width="0.9"/>
<line x1="116.1" y1="680.6" x2="116.1" y2="682.8" stroke-width="0.9"/>
<line x1="159.4" y1="680.6" x2="159.4" y2="682.8" stroke-width="0.9"/>
<line x1="221.5" y1="680.6" x2="221.5" y2="682.8" stroke-width="0.9"/>
<line x1="265" y1="680.6" x2="265" y2="682.8" stroke-width="0.9"/>
<line x1="308.7" y1="680.6" x2="308.7" y2="682.8" stroke-width="0.9"/>
<text class="r" transform="translate(13.6 596.3) rotate(-90)" x="-41.95" y="0" font-size="8.9" textLength="83.9" lengthAdjust="spacing">ACE gene expression</text>
<text class="r" transform="translate(25.6 596.3) rotate(-90)" x="-60.3" y="0" font-size="8.9" textLength="120.6" lengthAdjust="spacing">fold change (normalised to 18S)</text>
<line x1="76" y1="510.1" x2="159.5" y2="510.1" stroke-width="1"/>
<line x1="76" y1="506.1" x2="76" y2="514.1" stroke-width="1"/>
<line x1="159.5" y1="506.1" x2="159.5" y2="514.1" stroke-width="1"/>
<text class="b" x="105.5" y="505.9" font-size="9" textLength="38.2" lengthAdjust="spacingAndGlyphs">p&lt;0.0001</text>
<line x1="76" y1="538.4" x2="115.4" y2="538.4" stroke-width="1"/>
<line x1="76" y1="534.4" x2="76" y2="542.4" stroke-width="1"/>
<line x1="115.4" y1="534.4" x2="115.4" y2="542.4" stroke-width="1"/>
<text class="b" x="80.8" y="535.1" font-size="9" textLength="29" lengthAdjust="spacingAndGlyphs">p&lt;0.01</text>
<line x1="224" y1="550.3" x2="305.5" y2="550.3" stroke-width="1"/>
<line x1="224" y1="546.3" x2="224" y2="554.3" stroke-width="1"/>
<line x1="305.5" y1="546.3" x2="305.5" y2="554.3" stroke-width="1"/>
<text class="b" x="253.7" y="546.2" font-size="9" textLength="33.8" lengthAdjust="spacingAndGlyphs">p&lt;0.001</text>
<line x1="224" y1="567.5" x2="264.2" y2="567.5" stroke-width="1"/>
<line x1="224" y1="563.5" x2="224" y2="571.5" stroke-width="1"/>
<line x1="264.2" y1="563.5" x2="264.2" y2="571.5" stroke-width="1"/>
<text class="b" x="227" y="563" font-size="9" textLength="33.8" lengthAdjust="spacingAndGlyphs">p&lt;0.001</text>
<text class="b" x="59" y="692.4" font-size="10.8" textLength="29" lengthAdjust="spacingAndGlyphs">Sham</text>
<text class="b" x="106" y="693" font-size="10.8" textLength="32" lengthAdjust="spacingAndGlyphs">Saline</text>
<text class="b" x="150" y="693" font-size="10.8" textLength="24" lengthAdjust="spacingAndGlyphs">DIZE</text>
<text class="b" x="127" y="708.4" font-size="10.8" textLength="20" lengthAdjust="spacingAndGlyphs">BDL</text>
<text class="b" x="204.4" y="692.4" font-size="10.8" textLength="38.6" lengthAdjust="spacingAndGlyphs">Healthy</text>
<text class="b" x="204.4" y="705" font-size="10.8" textLength="34.6" lengthAdjust="spacingAndGlyphs">control</text>
<text class="b" x="255" y="693" font-size="10.8" textLength="32.6" lengthAdjust="spacingAndGlyphs">Saline</text>
<text class="b" x="298.6" y="693" font-size="10.8" textLength="24" lengthAdjust="spacingAndGlyphs">DIZE</text>
<text class="b" x="266" y="708.4" font-size="10.8" textLength="45" lengthAdjust="spacingAndGlyphs">Mdr2-KO</text>
<line x1="105" y1="697.7" x2="175.6" y2="697.7" stroke-width="1.7"/>
<line x1="254" y1="697.7" x2="324" y2="697.7" stroke-width="1.7"/>
<text class="s" x="361" y="505.5" font-size="14.3" textLength="20" lengthAdjust="spacingAndGlyphs">(F)</text>
<line x1="393" y1="502.1" x2="393" y2="679.5" stroke-width="1.2"/>
<line x1="388.1" y1="502.6" x2="393" y2="502.6" stroke-width="1.2"/>
<text class="r" x="382.75" y="506.27" font-size="10.34" textLength="5.01" lengthAdjust="spacingAndGlyphs">3</text>
<line x1="388.1" y1="561.6" x2="393" y2="561.6" stroke-width="1.2"/>
<text class="r" x="382.75" y="565.27" font-size="10.34" textLength="5.01" lengthAdjust="spacingAndGlyphs">2</text>
<line x1="388.1" y1="620.6" x2="393" y2="620.6" stroke-width="1.2"/>
<text class="r" x="382.75" y="624.27" font-size="10.34" textLength="5.01" lengthAdjust="spacingAndGlyphs">1</text>
<line x1="388.1" y1="679.5" x2="393" y2="679.5" stroke-width="1.2"/>
<text class="r" x="382.75" y="683.17" font-size="10.34" textLength="5.01" lengthAdjust="spacingAndGlyphs">0</text>
<rect x="401.5" y="620.3" width="27.6" height="59.2" fill="url(#p-fine)" stroke="none"/>
<line x1="402.38" y1="620.3" x2="402.38" y2="679.5" stroke-width="1.75"/>
<line x1="428.23" y1="620.3" x2="428.23" y2="679.5" stroke-width="1.75"/>
<line x1="401.5" y1="621.18" x2="429.1" y2="621.18" stroke-width="1.75"/>
<line x1="415.3" y1="610.7" x2="415.3" y2="620.3" stroke-width="1.65"/>
<line x1="408.26" y1="610.7" x2="422.34" y2="610.7" stroke-width="1.8"/>
<rect x="447" y="591.7" width="27.1" height="87.8" fill="url(#p-big)" stroke="none"/>
<line x1="447.88" y1="591.7" x2="447.88" y2="679.5" stroke-width="1.75"/>
<line x1="473.23" y1="591.7" x2="473.23" y2="679.5" stroke-width="1.75"/>
<line x1="447" y1="592.58" x2="474.1" y2="592.58" stroke-width="1.75"/>
<line x1="460.55" y1="569.9" x2="460.55" y2="591.7" stroke-width="1.65"/>
<line x1="453.64" y1="569.9" x2="467.46" y2="569.9" stroke-width="1.8"/>
<rect x="491.5" y="547.1" width="27.6" height="132.4" fill="url(#p-h)" stroke="none"/>
<line x1="492.38" y1="547.1" x2="492.38" y2="679.5" stroke-width="1.75"/>
<line x1="518.23" y1="547.1" x2="518.23" y2="679.5" stroke-width="1.75"/>
<line x1="491.5" y1="547.98" x2="519.1" y2="547.98" stroke-width="1.75"/>
<line x1="505.3" y1="532.3" x2="505.3" y2="547.1" stroke-width="1.65"/>
<line x1="498.26" y1="532.3" x2="512.34" y2="532.3" stroke-width="1.8"/>
<rect x="555.9" y="620.3" width="27.6" height="59.2" fill="url(#p-v)" stroke="none"/>
<line x1="556.77" y1="620.3" x2="556.77" y2="679.5" stroke-width="1.75"/>
<line x1="582.62" y1="620.3" x2="582.62" y2="679.5" stroke-width="1.75"/>
<line x1="555.9" y1="621.18" x2="583.5" y2="621.18" stroke-width="1.75"/>
<line x1="569.7" y1="615.9" x2="569.7" y2="620.3" stroke-width="1.65"/>
<line x1="562.66" y1="615.9" x2="576.74" y2="615.9" stroke-width="1.8"/>
<rect x="600.5" y="596.1" width="27.6" height="83.4" fill="url(#p-d1)" stroke="none"/>
<line x1="601.38" y1="596.1" x2="601.38" y2="679.5" stroke-width="1.75"/>
<line x1="627.23" y1="596.1" x2="627.23" y2="679.5" stroke-width="1.75"/>
<line x1="600.5" y1="596.98" x2="628.1" y2="596.98" stroke-width="1.75"/>
<line x1="614.3" y1="591.3" x2="614.3" y2="596.1" stroke-width="1.65"/>
<line x1="607.26" y1="591.3" x2="621.34" y2="591.3" stroke-width="1.8"/>
<rect x="645.5" y="587.7" width="28" height="91.8" fill="url(#p-d2)" stroke="none"/>
<line x1="646.38" y1="587.7" x2="646.38" y2="679.5" stroke-width="1.75"/>
<line x1="672.62" y1="587.7" x2="672.62" y2="679.5" stroke-width="1.75"/>
<line x1="645.5" y1="588.58" x2="673.5" y2="588.58" stroke-width="1.75"/>
<line x1="659.5" y1="578.3" x2="659.5" y2="587.7" stroke-width="1.65"/>
<line x1="652.36" y1="578.3" x2="666.64" y2="578.3" stroke-width="1.8"/>
<line x1="393" y1="679.5" x2="682" y2="679.5" stroke-width="1.15"/>
<line x1="415.3" y1="679.5" x2="415.3" y2="681.7" stroke-width="0.9"/>
<line x1="460.55" y1="679.5" x2="460.55" y2="681.7" stroke-width="0.9"/>
<line x1="505.3" y1="679.5" x2="505.3" y2="681.7" stroke-width="0.9"/>
<line x1="569.7" y1="679.5" x2="569.7" y2="681.7" stroke-width="0.9"/>
<line x1="614.3" y1="679.5" x2="614.3" y2="681.7" stroke-width="0.9"/>
<line x1="659.5" y1="679.5" x2="659.5" y2="681.7" stroke-width="0.9"/>
<text class="r" transform="translate(363.6 592.7) rotate(-90)" x="-46.3" y="0" font-size="9.2" textLength="92.6" lengthAdjust="spacing">AT1-R gene expression</text>
<text class="r" transform="translate(375.6 594.7) rotate(-90)" x="-63.5" y="0" font-size="9.2" textLength="127" lengthAdjust="spacing">fold change (normalised to 18s)</text>
<line x1="417.7" y1="524.5" x2="505.6" y2="524.5" stroke-width="1"/>
<line x1="417.7" y1="520.5" x2="417.7" y2="528.5" stroke-width="1"/>
<line x1="505.6" y1="520.5" x2="505.6" y2="528.5" stroke-width="1"/>
<text class="b" x="446" y="521.5" font-size="9.2" textLength="30.3" lengthAdjust="spacingAndGlyphs">p&lt;0.05</text>
<line x1="570.7" y1="570.3" x2="659.3" y2="570.3" stroke-width="1"/>
<line x1="570.7" y1="566.3" x2="570.7" y2="574.3" stroke-width="1"/>
<line x1="659.3" y1="566.3" x2="659.3" y2="574.3" stroke-width="1"/>
<text class="b" x="606.3" y="565.4" font-size="9.2" textLength="29.6" lengthAdjust="spacingAndGlyphs">p&lt;0.01</text>
<line x1="570.7" y1="585.3" x2="615" y2="585.3" stroke-width="1"/>
<line x1="570.7" y1="581.3" x2="570.7" y2="589.3" stroke-width="1"/>
<line x1="615" y1="581.3" x2="615" y2="589.3" stroke-width="1"/>
<text class="b" x="578" y="582" font-size="9.2" textLength="30.4" lengthAdjust="spacingAndGlyphs">p&lt;0.05</text>
<text class="b" x="400.6" y="691.4" font-size="11" textLength="29.8" lengthAdjust="spacingAndGlyphs">Sham</text>
<text class="b" x="447.6" y="692" font-size="11" textLength="33.4" lengthAdjust="spacingAndGlyphs">Saline</text>
<text class="b" x="493" y="692" font-size="11" textLength="24" lengthAdjust="spacingAndGlyphs">DIZE</text>
<text class="b" x="468.4" y="707.8" font-size="11" textLength="20.6" lengthAdjust="spacingAndGlyphs">BDL</text>
<text class="b" x="549" y="691.4" font-size="11" textLength="40" lengthAdjust="spacingAndGlyphs">Healthy</text>
<text class="b" x="549" y="704" font-size="11" textLength="36.4" lengthAdjust="spacingAndGlyphs">control</text>
<text class="b" x="601.6" y="692" font-size="11" textLength="33.4" lengthAdjust="spacingAndGlyphs">Saline</text>
<text class="b" x="647" y="692" font-size="11" textLength="24.4" lengthAdjust="spacingAndGlyphs">DIZE</text>
<text class="b" x="613" y="707.8" font-size="11" textLength="46" lengthAdjust="spacingAndGlyphs">Mdr2-KO</text>
<line x1="447" y1="696.7" x2="519" y2="696.7" stroke-width="1.7"/>
<line x1="600.4" y1="696.7" x2="673" y2="696.7" stroke-width="1.7"/>
<text class="s" x="4" y="727.5" font-size="14.3" textLength="22" lengthAdjust="spacingAndGlyphs">(G)</text>
<line x1="50.2" y1="735.5" x2="50.2" y2="814.8" stroke-width="1.15"/>
<line x1="45" y1="736" x2="50.2" y2="736" stroke-width="1.15"/>
<text class="r" x="34.55" y="739.67" font-size="10.34" textLength="10.01" lengthAdjust="spacingAndGlyphs">40</text>
<line x1="45" y1="758.5" x2="50.2" y2="758.5" stroke-width="1.15"/>
<text class="r" x="34.55" y="762.17" font-size="10.34" textLength="10.01" lengthAdjust="spacingAndGlyphs">30</text>
<line x1="45" y1="781" x2="50.2" y2="781" stroke-width="1.15"/>
<text class="r" x="34.55" y="784.67" font-size="10.34" textLength="10.01" lengthAdjust="spacingAndGlyphs">20</text>
<line x1="45" y1="803.4" x2="50.2" y2="803.4" stroke-width="1.15"/>
<text class="r" x="34.55" y="807.07" font-size="10.34" textLength="10.01" lengthAdjust="spacingAndGlyphs">10</text>
<line x1="47" y1="814.8" x2="53.4" y2="814.8" stroke-width="1.15"/>
<line x1="50.2" y1="829.7" x2="50.2" y2="908.2" stroke-width="1.15"/>
<line x1="45" y1="829.8" x2="50.2" y2="829.8" stroke-width="1.15"/>
<text class="r" x="39.55" y="833.47" font-size="10.34" textLength="5.01" lengthAdjust="spacingAndGlyphs">5</text>
<line x1="45" y1="845.9" x2="50.2" y2="845.9" stroke-width="1.15"/>
<text class="r" x="39.55" y="849.57" font-size="10.34" textLength="5.01" lengthAdjust="spacingAndGlyphs">4</text>
<line x1="45" y1="862" x2="50.2" y2="862" stroke-width="1.15"/>
<text class="r" x="39.55" y="865.67" font-size="10.34" textLength="5.01" lengthAdjust="spacingAndGlyphs">3</text>
<line x1="45" y1="878" x2="50.2" y2="878" stroke-width="1.15"/>
<text class="r" x="39.55" y="881.67" font-size="10.34" textLength="5.01" lengthAdjust="spacingAndGlyphs">2</text>
<line x1="45" y1="894" x2="50.2" y2="894" stroke-width="1.15"/>
<text class="r" x="39.55" y="897.67" font-size="10.34" textLength="5.01" lengthAdjust="spacingAndGlyphs">1</text>
<line x1="45" y1="829.7" x2="53.4" y2="829.7" stroke-width="1.15"/>
<rect x="58.5" y="893.7" width="28" height="14.5" fill="url(#p-fine)" stroke="none"/>
<line x1="59.38" y1="893.7" x2="59.38" y2="908.2" stroke-width="1.75"/>
<line x1="85.62" y1="893.7" x2="85.62" y2="908.2" stroke-width="1.75"/>
<line x1="58.5" y1="894.58" x2="86.5" y2="894.58" stroke-width="1.75"/>
<line x1="72.5" y1="890.9" x2="72.5" y2="893.7" stroke-width="1.65"/>
<line x1="65.36" y1="890.9" x2="79.64" y2="890.9" stroke-width="1.8"/>
<rect x="102.5" y="884.7" width="27" height="23.5" fill="url(#p-big)" stroke="none"/>
<line x1="103.38" y1="884.7" x2="103.38" y2="908.2" stroke-width="1.75"/>
<line x1="128.62" y1="884.7" x2="128.62" y2="908.2" stroke-width="1.75"/>
<line x1="102.5" y1="885.58" x2="129.5" y2="885.58" stroke-width="1.75"/>
<line x1="116" y1="881.9" x2="116" y2="884.7" stroke-width="1.65"/>
<line x1="109.11" y1="881.9" x2="122.89" y2="881.9" stroke-width="1.8"/>
<rect x="144.5" y="867.1" width="27.4" height="41.1" fill="url(#p-h)" stroke="none"/>
<line x1="145.38" y1="867.1" x2="145.38" y2="908.2" stroke-width="1.75"/>
<line x1="171.03" y1="867.1" x2="171.03" y2="908.2" stroke-width="1.75"/>
<line x1="144.5" y1="867.98" x2="171.9" y2="867.98" stroke-width="1.75"/>
<line x1="158.2" y1="858.7" x2="158.2" y2="867.1" stroke-width="1.65"/>
<line x1="151.21" y1="858.7" x2="165.19" y2="858.7" stroke-width="1.8"/>
<rect x="206.5" y="893.7" width="27.4" height="14.5" fill="url(#p-v)" stroke="none"/>
<line x1="207.38" y1="893.7" x2="207.38" y2="908.2" stroke-width="1.75"/>
<line x1="233.03" y1="893.7" x2="233.03" y2="908.2" stroke-width="1.75"/>
<line x1="206.5" y1="894.58" x2="233.9" y2="894.58" stroke-width="1.75"/>
<line x1="220.2" y1="892.3" x2="220.2" y2="893.7" stroke-width="1.65"/>
<line x1="213.21" y1="892.3" x2="227.19" y2="892.3" stroke-width="1.8"/>
<rect x="249.9" y="774.7" width="27.2" height="39.9" fill="url(#p-d1)" stroke="none"/>
<line x1="250.78" y1="774.7" x2="250.78" y2="814.6" stroke-width="1.75"/>
<line x1="276.23" y1="774.7" x2="276.23" y2="814.6" stroke-width="1.75"/>
<line x1="249.9" y1="775.58" x2="277.1" y2="775.58" stroke-width="1.75"/>
<line x1="263.5" y1="769.3" x2="263.5" y2="774.7" stroke-width="1.65"/>
<line x1="256.56" y1="769.3" x2="270.44" y2="769.3" stroke-width="1.8"/>
<rect x="249.9" y="830" width="27.2" height="78.2" fill="url(#p-d1)" stroke="none"/>
<line x1="250.78" y1="830" x2="250.78" y2="908.2" stroke-width="1.75"/>
<line x1="276.23" y1="830" x2="276.23" y2="908.2" stroke-width="1.75"/>
<rect x="292.9" y="761.1" width="27.6" height="53.5" fill="url(#p-d2)" stroke="none"/>
<line x1="293.77" y1="761.1" x2="293.77" y2="814.6" stroke-width="1.75"/>
<line x1="319.62" y1="761.1" x2="319.62" y2="814.6" stroke-width="1.75"/>
<line x1="292.9" y1="761.98" x2="320.5" y2="761.98" stroke-width="1.75"/>
<line x1="306.7" y1="746.9" x2="306.7" y2="761.1" stroke-width="1.65"/>
<line x1="299.66" y1="746.9" x2="313.74" y2="746.9" stroke-width="1.8"/>
<rect x="292.9" y="830" width="27.6" height="78.2" fill="url(#p-d2)" stroke="none"/>
<line x1="293.77" y1="830" x2="293.77" y2="908.2" stroke-width="1.75"/>
<line x1="319.62" y1="830" x2="319.62" y2="908.2" stroke-width="1.75"/>
<line x1="50.2" y1="908.2" x2="328.4" y2="908.2" stroke-width="1.15"/>
<line x1="72.5" y1="908.2" x2="72.5" y2="910.4" stroke-width="0.9"/>
<line x1="116" y1="908.2" x2="116" y2="910.4" stroke-width="0.9"/>
<line x1="158.2" y1="908.2" x2="158.2" y2="910.4" stroke-width="0.9"/>
<line x1="220.2" y1="908.2" x2="220.2" y2="910.4" stroke-width="0.9"/>
<line x1="263.5" y1="908.2" x2="263.5" y2="910.4" stroke-width="0.9"/>
<line x1="306.7" y1="908.2" x2="306.7" y2="910.4" stroke-width="0.9"/>
<text class="r" transform="translate(17.6 823.5) rotate(-90)" x="-45.5" y="0" font-size="8.9" textLength="91" lengthAdjust="spacing">Mas-R gene expression</text>
<text class="r" transform="translate(29.6 824.3) rotate(-90)" x="-59.9" y="0" font-size="8.9" textLength="119.8" lengthAdjust="spacing">fold change (normalised to 18S)</text>
<line x1="72.9" y1="850.1" x2="158.8" y2="850.1" stroke-width="1"/>
<line x1="72.9" y1="846.1" x2="72.9" y2="854.1" stroke-width="1"/>
<line x1="158.8" y1="846.1" x2="158.8" y2="854.1" stroke-width="1"/>
<text class="b" x="99.1" y="847" font-size="9" textLength="29" lengthAdjust="spacingAndGlyphs">p&lt;0.01</text>
<line x1="225.5" y1="740.2" x2="306.4" y2="740.2" stroke-width="1"/>
<line x1="225.5" y1="736.2" x2="225.5" y2="744.2" stroke-width="1"/>
<line x1="306.4" y1="736.2" x2="306.4" y2="744.2" stroke-width="1"/>
<text class="b" x="253.1" y="737" font-size="9" textLength="38" lengthAdjust="spacingAndGlyphs">p&lt;0.0001</text>
<line x1="225.5" y1="762.4" x2="263.6" y2="762.4" stroke-width="1"/>
<line x1="225.5" y1="758.4" x2="225.5" y2="766.4" stroke-width="1"/>
<line x1="263.6" y1="758.4" x2="263.6" y2="766.4" stroke-width="1"/>
<text class="b" x="228.2" y="758.9" font-size="9" textLength="33.6" lengthAdjust="spacingAndGlyphs">p&lt;0.001</text>
<text class="b" x="57.6" y="920.4" font-size="10.8" textLength="29.4" lengthAdjust="spacingAndGlyphs">Sham</text>
<text class="b" x="102.4" y="921" font-size="10.8" textLength="32" lengthAdjust="spacingAndGlyphs">Saline</text>
<text class="b" x="147" y="921" font-size="10.8" textLength="23.6" lengthAdjust="spacingAndGlyphs">DIZE</text>
<text class="b" x="123.6" y="936" font-size="10.8" textLength="20" lengthAdjust="spacingAndGlyphs">BDL</text>
<text class="b" x="201.4" y="920.4" font-size="10.8" textLength="38.2" lengthAdjust="spacingAndGlyphs">Healthy</text>
<text class="b" x="201.4" y="932.4" font-size="10.8" textLength="35" lengthAdjust="spacingAndGlyphs">control</text>
<text class="b" x="251" y="921" font-size="10.8" textLength="32" lengthAdjust="spacingAndGlyphs">Saline</text>
<text class="b" x="295" y="921" font-size="10.8" textLength="25" lengthAdjust="spacingAndGlyphs">DIZE</text>
<text class="b" x="263" y="936" font-size="10.8" textLength="45" lengthAdjust="spacingAndGlyphs">Mdr2-KO</text>
<line x1="102" y1="925.4" x2="171.6" y2="925.4" stroke-width="1.7"/>
<line x1="250.4" y1="925.4" x2="321" y2="925.4" stroke-width="1.7"/>
</svg>
</body></html>
